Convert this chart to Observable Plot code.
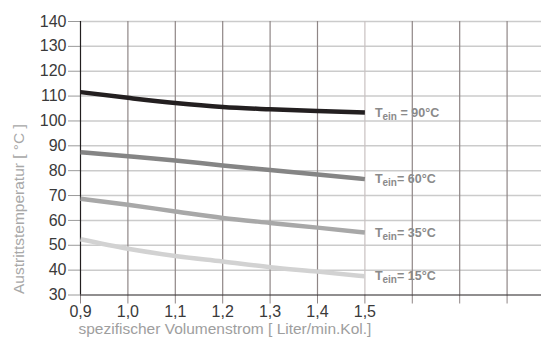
<!DOCTYPE html>
<html>
<head>
<meta charset="utf-8">
<script src="https://cdn.jsdelivr.net/npm/d3@7"></script>
<script src="https://cdn.jsdelivr.net/npm/@observablehq/plot@0.6"></script>
<style>
  html, body { margin: 0; padding: 0; background: #fff; }
  #chart svg { display: block; }
</style>
</head>
<body>
<div id="chart"></div>
<script>
// --- data ---
const volumes = [0.9, 1.0, 1.1, 1.2, 1.3, 1.4, 1.5];
const t90 = [111.6, 109.3, 107.2, 105.6, 104.7, 104.0, 103.4];
const t60 = [87.4, 85.8, 84.1, 82.1, 80.3, 78.5, 76.6];
const t35 = [68.7, 66.3, 63.6, 61.0, 59.0, 57.1, 55.1];
const t15 = [52.4, 48.6, 45.7, 43.5, 41.2, 39.4, 37.5];
const seriesLabels = ["T_ein = 90°C", "T_ein= 60°C", "T_ein= 35°C", "T_ein= 15°C"];
const seriesColors = ["#231f20", "#858585", "#a8a8a8", "#d2d2d2"];
const xTicks = [0.9, 1.0, 1.1, 1.2, 1.3, 1.4, 1.5, 1.6, 1.7, 1.8];
const xTickLabels = ["0,9", "1,0", "1,1", "1,2", "1,3", "1,4", "1,5", "", "", ""];
const yTicks = [30, 40, 50, 60, 70, 80, 90, 100, 110, 120, 130, 140];
const xTitle = "spezifischer Volumenstrom [ Liter/min.Kol.]";
const yTitle = "Austrittstemperatur [ °C ]";

const allSeries = [t90, t60, t35, t15];
const rows = allSeries.flatMap((vals, s) =>
  vals.map((v, i) => ({ x: volumes[i], y: v, s }))
);
const ends = allSeries.map((vals, s) => ({
  x: volumes[volumes.length - 1], y: vals[vals.length - 1], label: seriesLabels[s]
}));

const font = "'Liberation Sans', Arial, Helvetica, sans-serif";

const chart = Plot.plot({
  width: 541,
  height: 343,
  marginLeft: 80,
  marginRight: 0,
  marginTop: 21,
  marginBottom: 48.5,
  style: { fontFamily: font, background: "#fff", overflow: "visible" },
  x: { domain: [0.9, 1.8726] },
  y: { domain: [30, 140] },
  marks: [
    // horizontal grid
    Plot.ruleY(yTicks.filter(d => d > 30), { stroke: "#cbcbcb", strokeWidth: 1.5 }),
    // vertical grid
    Plot.ruleX(xTicks.filter(d => d > 0.9), {
      y1: 30, y2: 140,
      stroke: d => (Math.abs(d - 1.5) < 1e-9 ? "#c9c1c1" : "#8f8686"),
      strokeWidth: 1.2
    }),
    Plot.axisY({
      ticks: yTicks, tickSize: 12, tickPadding: 2, label: null,
      fontSize: 16, fill: "#3a3a3a", stroke: "#9a9a9a"
    }),
    Plot.axisX({
      ticks: xTicks, tickSize: 9, tickPadding: 2, label: null,
      tickFormat: d => xTickLabels[xTicks.findIndex(t => Math.abs(t - d) < 1e-9)] ?? "",
      fontSize: 16, fill: "#3a3a3a", stroke: "#8f8686"
    }),
    Plot.ruleX([0.9], { y1: 30, y2: 140, stroke: "#231f20", strokeWidth: 1.2 }),
    Plot.ruleY([30], { stroke: "#231f20", strokeWidth: 1.2 }),
    // curves
    ...allSeries.map((_, s) => Plot.line(rows.filter(r => r.s === s), {
      x: "x", y: "y", stroke: seriesColors[s], strokeWidth: 4.5,
      curve: "monotone-x", strokeLinecap: "butt"
    })),
    // curve labels
    Plot.text(ends, {
      x: "x", y: "y", text: "label", dx: 10, textAnchor: "start",
      fill: "#8a8a8a", fontWeight: "bold", fontSize: 12.5, className: "curve-label"
    }),
    // axis titles
    Plot.text([xTitle], {
      frameAnchor: "bottom-left", dx: -2, dy: 39, textAnchor: "start",
      lineAnchor: "bottom", fill: "#9e9e9e", fontSize: 15.5
    }),
    Plot.text([yTitle], {
      frameAnchor: "bottom-left", dx: -57, dy: -1, rotate: -90, textAnchor: "start",
      lineAnchor: "bottom", fill: "#a8a8a8", fontSize: 15.5
    })
  ]
});

// subscript "ein" in curve labels
chart.querySelectorAll("g.curve-label text").forEach(t => {
  const txt = t.textContent;
  const m = txt.match(/^T_ein(.*)$/);
  if (!m) return;
  while (t.firstChild) t.removeChild(t.firstChild);
  t.appendChild(document.createTextNode("T"));
  const sub = document.createElementNS("http://www.w3.org/2000/svg", "tspan");
  sub.setAttribute("dy", "3");
  sub.setAttribute("font-size", "10");
  sub.textContent = "ein";
  t.appendChild(sub);
  const rest = document.createElementNS("http://www.w3.org/2000/svg", "tspan");
  rest.setAttribute("dy", "-3");
  rest.textContent = m[1];
  t.appendChild(rest);
});

document.getElementById("chart").appendChild(chart);
</script>
</body>
</html>
